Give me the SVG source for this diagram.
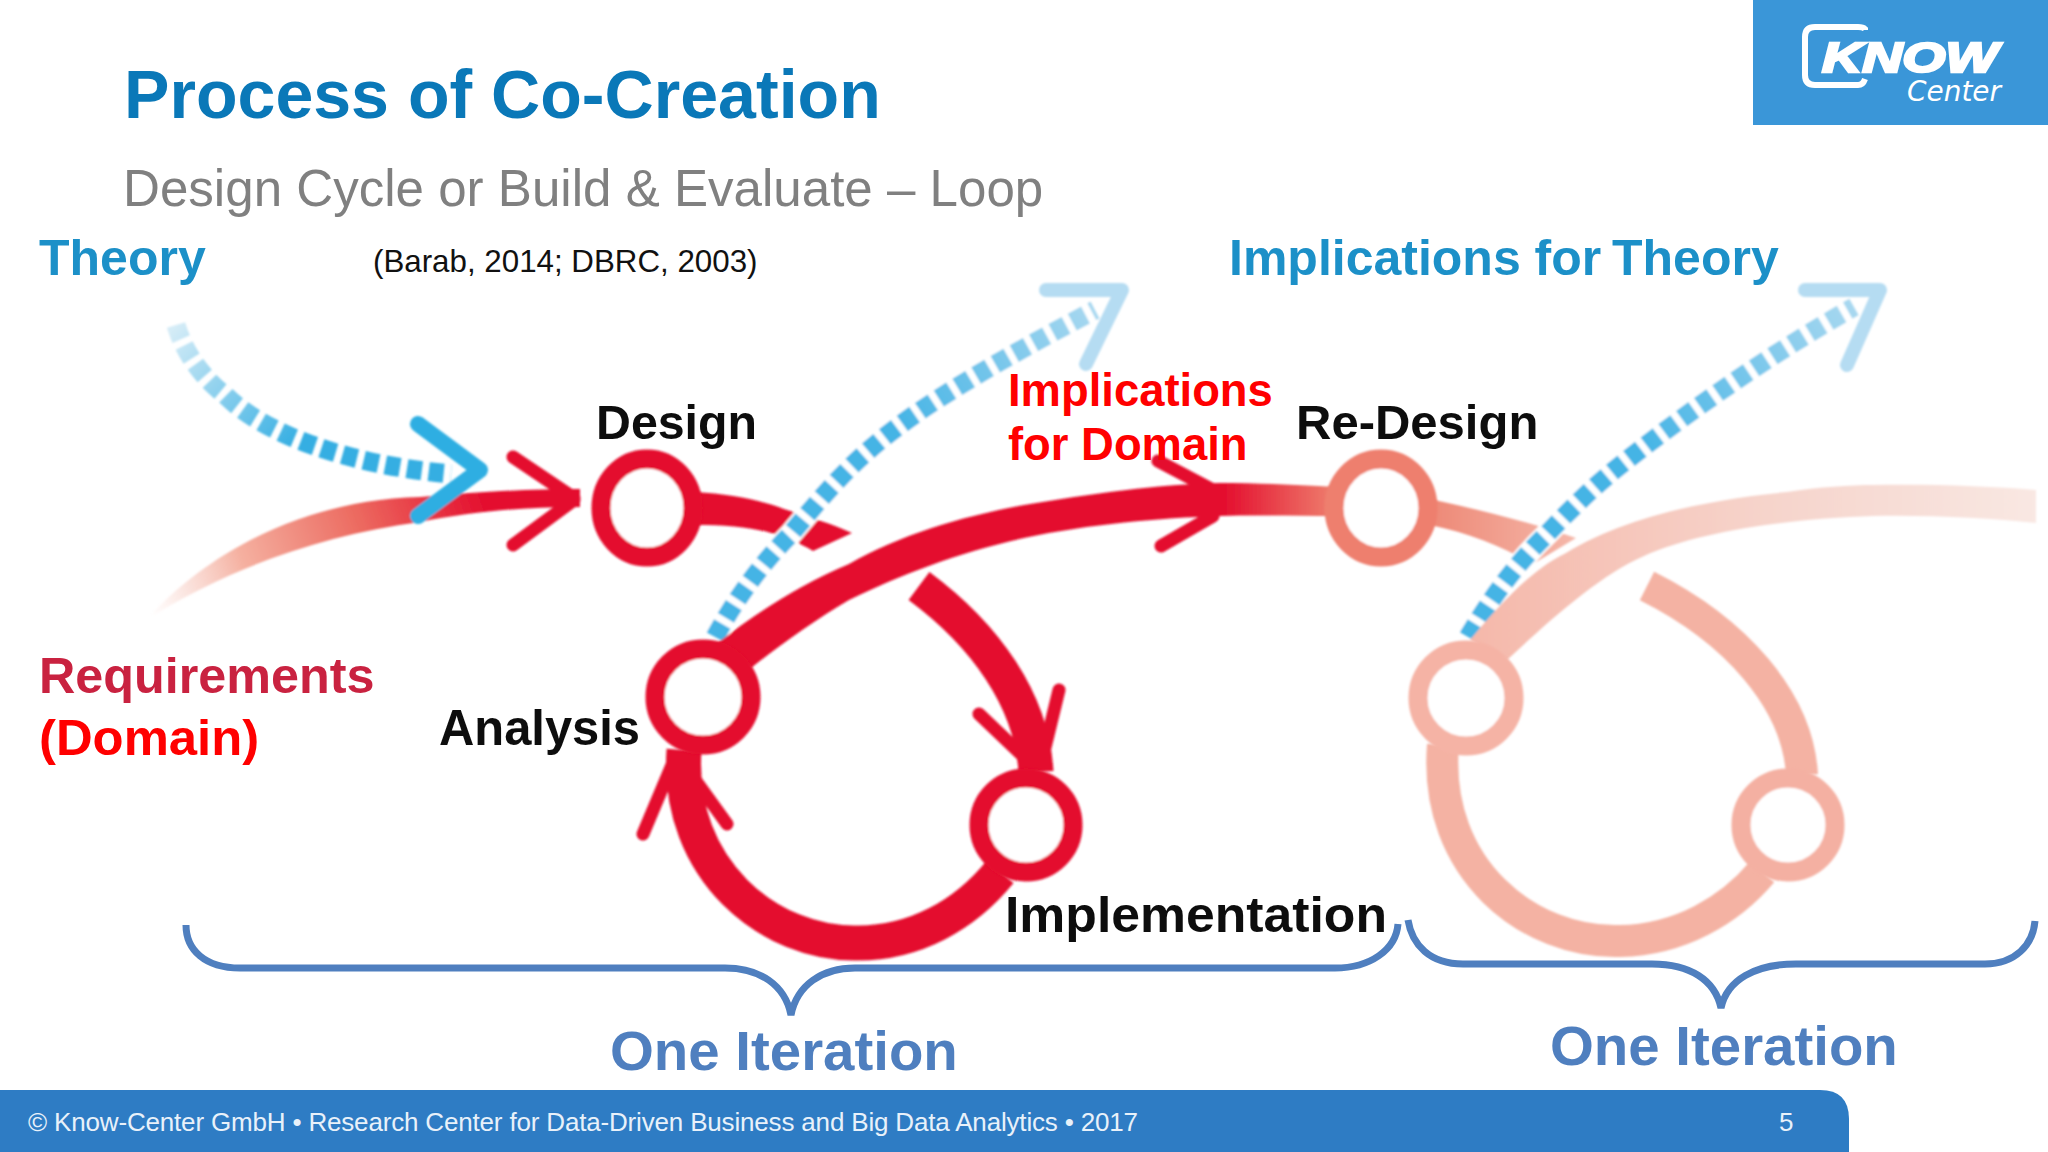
<svg xmlns="http://www.w3.org/2000/svg" width="2048" height="1152" viewBox="0 0 2048 1152">
<style>
text{font-family:"Liberation Sans",Arial,sans-serif}
.b{font-weight:700}
.k{fill:#111}
.th{fill:#1e90c8}
.dr{fill:#f00}
.oi{fill:#4f7fbf}
.ring{fill:#fff;stroke-width:19}
.dash{fill:none;stroke-width:19;stroke-dasharray:15 7}
.under{fill:none;stroke:#fff;stroke-width:23}
.chev{fill:none;stroke-linecap:round;stroke-linejoin:round}
.brace{fill:none;stroke:#4f7fbf;stroke-width:7}
.red{fill:none;stroke:#e4102f;stroke-width:35}
.pale{fill:none;stroke:#f4b2a3;stroke-width:32}
.head{fill:none;stroke:#e4102f;stroke-width:13;stroke-linecap:round;stroke-linejoin:round}
</style>
<defs>
<filter id="soft" filterUnits="userSpaceOnUse" x="0" y="0" width="2048" height="1152"><feGaussianBlur stdDeviation="1"/></filter>
<filter id="softT" filterUnits="userSpaceOnUse" x="0" y="0" width="2048" height="1152"><feGaussianBlur stdDeviation="0.6"/></filter>
<linearGradient id="reqG" gradientUnits="userSpaceOnUse" x1="150" y1="615" x2="480" y2="495">
<stop offset="0" stop-color="#f6c5ba" stop-opacity="0"/><stop offset=".3" stop-color="#f5b0a0"/><stop offset=".65" stop-color="#ec6a60"/><stop offset="1" stop-color="#e4102f"/></linearGradient>
<linearGradient id="bigG" gradientUnits="userSpaceOnUse" x1="1225" y1="0" x2="1335" y2="0">
<stop offset="0" stop-color="#e4102f"/><stop offset="1" stop-color="#ee7f6e"/></linearGradient>
<linearGradient id="exitG" gradientUnits="userSpaceOnUse" x1="1435" y1="0" x2="1576" y2="0">
<stop offset="0" stop-color="#ee8a78"/><stop offset="1" stop-color="#f5b8aa"/></linearGradient>
<linearGradient id="paleG" gradientUnits="userSpaceOnUse" x1="1470" y1="0" x2="2040" y2="0">
<stop offset="0" stop-color="#f5b8aa"/><stop offset=".5" stop-color="#f6d3ca"/><stop offset="1" stop-color="#f9e8e3"/></linearGradient>
<linearGradient id="d1G" gradientUnits="userSpaceOnUse" x1="176" y1="325" x2="300" y2="440">
<stop offset="0" stop-color="#d5ecf7"/><stop offset="1" stop-color="#35aee2"/></linearGradient>
<linearGradient id="d2G" gradientUnits="userSpaceOnUse" x1="900" y1="430" x2="1095" y2="310">
<stop offset="0" stop-color="#45b4e5"/><stop offset="1" stop-color="#a8d8f0"/></linearGradient>
<linearGradient id="d3G" gradientUnits="userSpaceOnUse" x1="1640" y1="450" x2="1855" y2="307">
<stop offset="0" stop-color="#45b4e5"/><stop offset="1" stop-color="#a8d8f0"/></linearGradient>
</defs>
<rect width="2048" height="1152" fill="#fff"/>

<g id="title">
<text class="b" x="124" y="118" font-size="68.1" fill="#0a78b8">Process of Co-Creation</text>
<text x="123" y="206" font-size="51.1" fill="#808080">Design Cycle or Build &amp; Evaluate – Loop</text>
<text x="373" y="272" font-size="31.3" fill="#111">(Barab, 2014; DBRC, 2003)</text>
</g>

<g id="logo">
<rect x="1753" y="0" width="295" height="125" fill="#3a96d8"/>
<path d="M1865,30 L1865,29 Q1863,27 1858,27 L1815,27 Q1805,27 1805,37 L1805,75 Q1805,85 1815,85 L1858,85 Q1863,85 1865,79" fill="none" stroke="#fff" stroke-width="6"/>
<text x="1822" y="72" font-size="43" font-weight="700" font-style="italic" fill="#fff" stroke="#fff" stroke-width="2.5" textLength="176" lengthAdjust="spacingAndGlyphs">KNOW</text>
<text x="1907" y="101" font-size="28" font-style="italic" fill="#fff" style="font-family:'DejaVu Sans',sans-serif" textLength="94" lengthAdjust="spacingAndGlyphs">Center</text>
</g>

<g id="connectors" filter="url(#soft)">
<path id="req-curve" d="M146,620 C205,555 300,500 420,497 C470,492 530,489 580,489 L580,507 C520,507 470,512 420,522 C320,535 225,570 146,620Z" fill="url(#reqG)"/>
<path class="head" d="M513,457 L574,498 M513,545 L574,500"/>
<path id="design-exit" d="M695,492 C730,494 760,500 784,509 C810,517 832,524 852,533 L813,551 C800,543 785,537 771,533 C750,527 725,525 695,525Z" fill="#e4102f"/>
<path id="redesign-exit" d="M1430,499 C1480,510 1530,522 1576,538 L1533,564 C1505,548 1470,533 1430,525Z" fill="url(#exitG)"/>

<path class="under" d="M715,637 C735,600 760,565 790,535 C815,505 840,475 869,450 C920,405 1000,360 1095,310"/>
<path class="dash" stroke="url(#d2G)" d="M715,637 C735,600 760,565 790,535 C815,505 840,475 869,450 C920,405 1000,360 1095,310"/>
<path class="under" d="M1468,637 C1490,600 1515,565 1546,535 C1565,515 1590,490 1612,472 C1670,425 1760,360 1854,307"/>
<path class="dash" stroke="url(#d3G)" d="M1468,637 C1490,600 1515,565 1546,535 C1565,515 1590,490 1612,472 C1670,425 1760,360 1854,307"/>
<path class="dash" stroke="url(#d1G)" d="M176,325 C185,355 205,380 225,395 C265,435 350,465 451,474"/>
<path class="chev" stroke="#2eaee2" stroke-width="16" d="M418,424 L480,470 L418,516"/>
<path class="chev" stroke="#b5dcf2" stroke-width="14" d="M1046,290 L1122,290 L1086,364"/>
<path class="chev" stroke="#b5dcf2" stroke-width="14" d="M1805,290 L1880,290 L1847,365"/>

<path id="pale-main" d="M1470,640 C1495,610 1530,570 1566,553 C1620,520 1700,500 1787,492 C1820,487 1850,485 1873,485 C1930,484 1990,486 2036,490 L2036,523 C1990,518 1930,515 1873,516 C1800,518 1700,530 1644,556 C1600,575 1550,620 1507,660Z" fill="url(#paleG)"/>
<path id="pale-right" class="pale" d="M1647,586 C1735,630 1798,700 1802,775"/>
<path id="pale-bottom" class="pale" d="M1443,745 C1433,870 1530,944 1620,941 C1680,940 1730,910 1762,872"/>

<path id="red-main" d="M715,645 C760,610 800,585 849,564 C900,535 960,517 1024,505 C1090,494 1160,484 1220,483 C1260,483 1300,485 1335,487 L1335,516 C1300,516 1260,515 1220,516 C1160,518 1090,524 1024,538 C960,552 900,575 849,600 C815,620 780,645 751,668Z" fill="url(#bigG)"/>
<path class="head" d="M1158,461 L1213,490 M1161,546 L1213,516" stroke-width="14"/>
<path id="red-right" class="red" d="M919,586 C985,635 1032,700 1036,772"/>
<path class="head" d="M1059,690 L1042,760 M979,714 L1022,755"/>
<path id="red-bottom" class="red" d="M684,750 C676,870 770,945 858,943 C915,943 965,915 1000,872"/>
<path class="head" d="M643,834 L672,765 M727,824 L688,770"/>
</g>

<g id="node-design" filter="url(#soft)"><ellipse class="ring" cx="647" cy="508" rx="46" ry="49" stroke="#e4102f"/></g>
<g id="node-analysis" filter="url(#soft)"><circle class="ring" cx="703" cy="697" r="48" stroke="#e4102f"/></g>
<g id="node-implementation" filter="url(#soft)"><circle class="ring" cx="1026" cy="825" r="47" stroke="#e4102f"/></g>
<g id="node-redesign" filter="url(#soft)"><ellipse class="ring" cx="1381" cy="508" rx="47" ry="49" stroke="#ee7f6e"/></g>
<g id="node-analysis2" filter="url(#soft)"><circle class="ring" cx="1466" cy="698" r="48" stroke="#f5b3a5"/></g>
<g id="node-implementation2" filter="url(#soft)"><circle class="ring" cx="1788" cy="825" r="47" stroke="#f4b0a2"/></g>

<g id="braces">
<path class="brace" d="M186,925 C186,950 205,968 240,968 L725,968 C760,968 785,985 791,1015 C797,985 822,968 855,968 L1335,968 C1370,968 1396,950 1398,924"/>
<path class="brace" d="M1408,920 C1412,945 1430,964 1463,964 L1652,964 C1690,964 1715,980 1721,1008 C1727,980 1755,964 1796,964 L1985,964 C2015,964 2033,945 2035,921"/>
</g>

<g id="labels">
<g filter="url(#softT)">
<text class="b th" x="39" y="275" font-size="50">Theory</text>
<text class="b th" x="1229" y="275" font-size="50">Implications for<tspan x="1612">Theory</tspan></text>
<text class="b k" x="596" y="439" font-size="48.3">Design</text>
<text class="b k" x="1296" y="439" font-size="49">Re-Design</text>
<text class="b" x="39" y="693" font-size="50.3" fill="#c9203f">Requirements</text>
<text class="b k" x="439" y="745" font-size="50" textLength="201" lengthAdjust="spacingAndGlyphs">Analysis</text>
<text class="b k" x="1005" y="932" font-size="50" textLength="382" lengthAdjust="spacingAndGlyphs">Implementation</text>
</g>
<text class="b dr" x="1008" y="406" font-size="45.4">Implications</text>
<text class="b dr" x="1008" y="460" font-size="45.4">for Domain</text>
<text class="b dr" x="39" y="755" font-size="50.8">(Domain)</text>
<text class="b oi" x="610" y="1070" font-size="56.4">One Iteration</text>
<text class="b oi" x="1550" y="1065" font-size="56.4">One Iteration</text>
</g>

<g id="footer">
<path d="M0,1090 L1820,1090 Q1849,1090 1849,1119 L1849,1152 L0,1152Z" fill="#2e7cc4"/>
<text x="28" y="1131" font-size="26" fill="#e8f1fa" textLength="1110">© Know-Center GmbH • Research Center for Data-Driven Business and Big Data Analytics • 2017</text>
<text x="1779" y="1131" font-size="26" fill="#e8f1fa">5</text>
</g>
</svg>
